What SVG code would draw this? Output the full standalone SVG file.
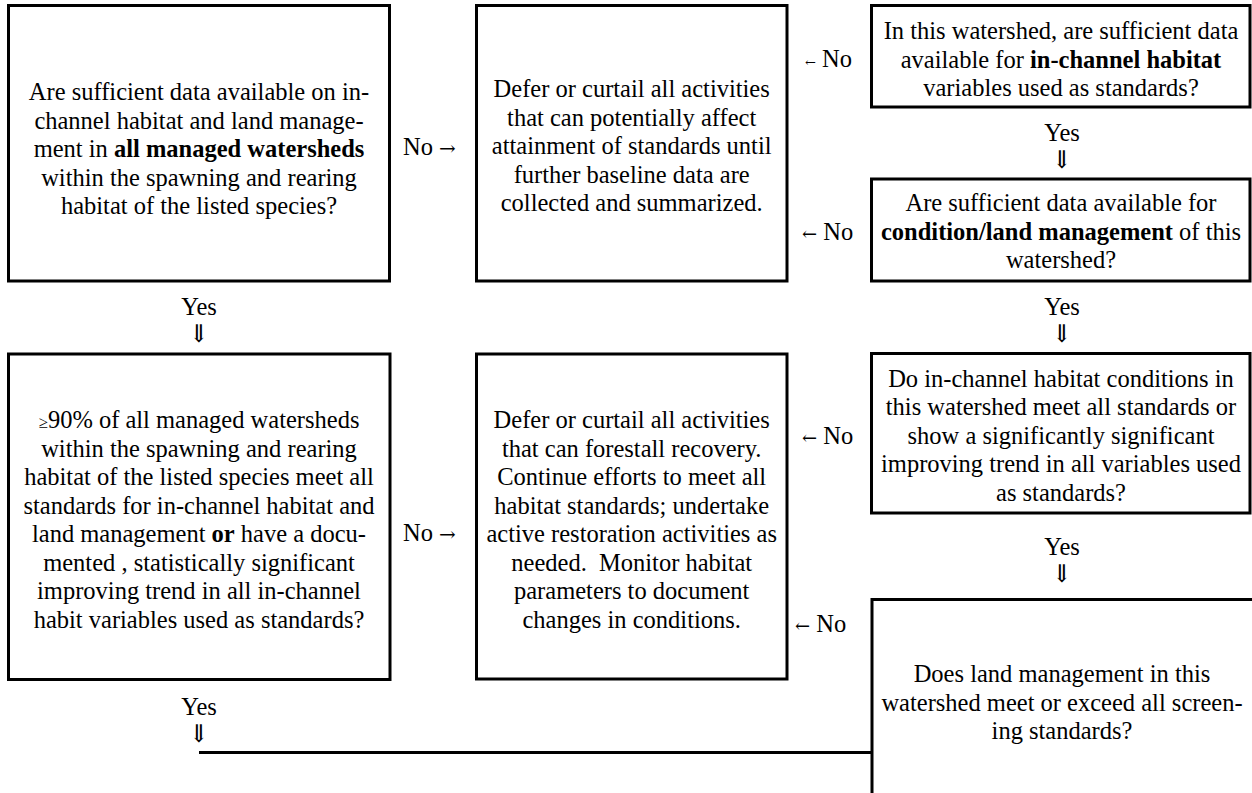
<svg xmlns="http://www.w3.org/2000/svg" width="1252" height="793" viewBox="0 0 1252 793">
<style>
text{font-family:"Liberation Serif","Times New Roman",serif;font-size:24.5px;fill:#000}
.c{text-anchor:middle}
.b{font-weight:bold}
.box{fill:#fff;stroke:#000;stroke-width:3}
.ln{fill:none;stroke:#000;stroke-width:3}
.arr{font-family:"DejaVu Serif","Liberation Serif",serif}
</style>
<rect width="1252" height="793" fill="#fff"/>
<g id="n1">
<rect class="box" x="8.5" y="5.5" width="381" height="275.5"/>
<text class="c" x="199"><tspan x="199" y="100">Are sufficient data available on in-</tspan><tspan x="199" y="128.5">channel habitat and land manage-</tspan><tspan x="199" y="157">ment in <tspan class="b">all managed watersheds</tspan></tspan><tspan x="199" y="185.5">within the spawning and rearing</tspan><tspan x="199" y="214">habitat of the listed species?</tspan></text>
</g>
<g id="n2">
<rect class="box" x="476.5" y="5.5" width="310.5" height="275.5"/>
<text class="c"><tspan x="631.7" y="97">Defer or curtail all activities</tspan><tspan x="631.7" y="125.5">that can potentially affect</tspan><tspan x="631.7" y="154">attainment of standards until</tspan><tspan x="631.7" y="182.5">further baseline data are</tspan><tspan x="631.7" y="211">collected and summarized.</tspan></text>
</g>
<g id="n3">
<rect class="box" x="871.5" y="5.5" width="378.5" height="101.5"/>
<text class="c"><tspan x="1061" y="39">In this watershed, are sufficient data</tspan><tspan x="1061" y="67.5">available for <tspan class="b">in-channel habitat</tspan></tspan><tspan x="1061" y="96">variables used as standards?</tspan></text>
</g>
<g id="n4">
<rect class="box" x="871.5" y="179" width="378.5" height="102"/>
<text class="c"><tspan x="1061" y="211">Are sufficient data available for</tspan><tspan x="1061" y="239.5"><tspan class="b">condition/land management</tspan> of this</tspan><tspan x="1061" y="268">watershed?</tspan></text>
</g>
<g id="n5">
<rect class="box" x="8.5" y="354" width="381.5" height="325.5"/>
<text class="c"><tspan x="199" y="428"><tspan font-size="17">≥</tspan>90% of all managed watersheds</tspan><tspan x="199" y="456.5">within the spawning and rearing</tspan><tspan x="199" y="485">habitat of the listed species meet all</tspan><tspan x="199" y="513.5">standards for in-channel habitat and</tspan><tspan x="199" y="542">land management <tspan class="b">or</tspan> have a docu-</tspan><tspan x="199" y="570.5">mented , statistically significant</tspan><tspan x="199" y="599">improving trend in all in-channel</tspan><tspan x="199" y="627.5">habit variables used as standards?</tspan></text>
</g>
<g id="n6">
<rect class="box" x="476.5" y="354" width="310.5" height="325"/>
<text class="c"><tspan x="631.7" y="428">Defer or curtail all activities</tspan><tspan x="631.7" y="456.5">that can forestall recovery.</tspan><tspan x="631.7" y="485">Continue efforts to meet all</tspan><tspan x="631.7" y="513.5">habitat standards; undertake</tspan><tspan x="631.7" y="542">active restoration activities as</tspan><tspan x="631.7" y="570.5">needed.&#160; Monitor habitat</tspan><tspan x="631.7" y="599">parameters to document</tspan><tspan x="631.7" y="627.5">changes in conditions.</tspan></text>
</g>
<g id="n7">
<rect class="box" x="871.5" y="353.5" width="378.5" height="159.5"/>
<text class="c"><tspan x="1061" y="386.5">Do in-channel habitat conditions in</tspan><tspan x="1061" y="415">this watershed meet all standards or</tspan><tspan x="1061" y="443.5">show a significantly significant</tspan><tspan x="1061" y="472">improving trend in all variables used</tspan><tspan x="1061" y="500.5">as standards?</tspan></text>
</g>
<g id="n8">
<path class="ln" d="M872 793 V599.5 H1252"/>
<text class="c"><tspan x="1062" y="682">Does land management in this</tspan><tspan x="1062" y="710.5">watershed meet or exceed all screen-</tspan><tspan x="1062" y="739">ing standards?</tspan></text>
</g>
<g id="connectors">
<path class="ln" d="M199 752.5 H872"/>
<text x="403" y="155">No <tspan class="arr" font-size="20">→</tspan></text>
<text x="403" y="541">No <tspan class="arr" font-size="20">→</tspan></text>
<text x="805" y="67"><tspan class="arr" font-size="13">←</tspan> No</text>
<text x="802" y="240"><tspan class="arr" font-size="18">←</tspan> No</text>
<text x="802" y="444"><tspan class="arr" font-size="18">←</tspan> No</text>
<text x="795" y="632"><tspan class="arr" font-size="18">←</tspan> No</text>
<text class="c" x="1062" y="141">Yes</text>
<text class="c arr" x="1062" y="168" font-size="20">⇓</text>
<text class="c" x="1062" y="315">Yes</text>
<text class="c arr" x="1062" y="342" font-size="20">⇓</text>
<text class="c" x="1062" y="555">Yes</text>
<text class="c arr" x="1062" y="582" font-size="20">⇓</text>
<text class="c" x="199" y="315">Yes</text>
<text class="c arr" x="199" y="342" font-size="20">⇓</text>
<text class="c" x="199" y="715">Yes</text>
<text class="c arr" x="199" y="742" font-size="20">⇓</text>
</g>
</svg>
